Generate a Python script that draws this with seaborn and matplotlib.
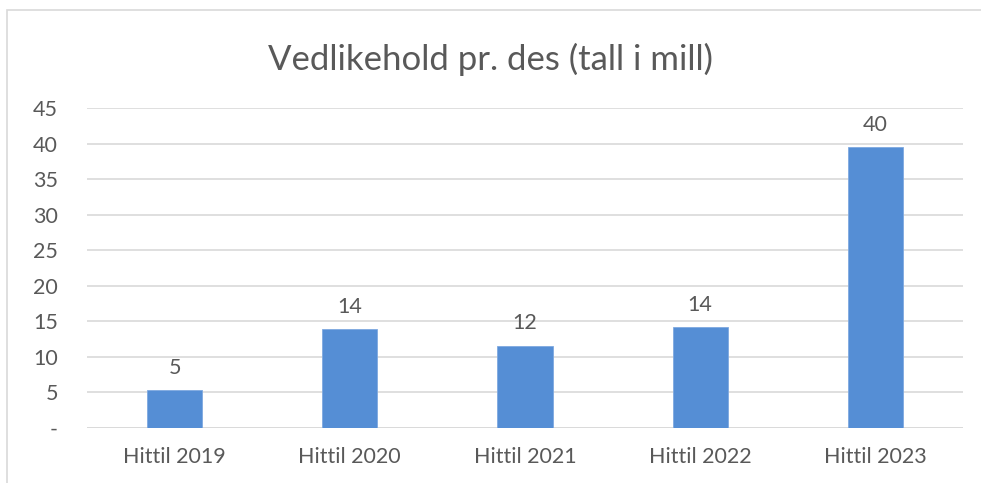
import matplotlib
matplotlib.use("Agg")
import matplotlib.pyplot as plt
import seaborn as sns
import pandas as pd
from matplotlib.patches import Rectangle

categories = ["Hittil 2019", "Hittil 2020", "Hittil 2021", "Hittil 2022", "Hittil 2023"]
values = [5.3, 13.9, 11.6, 14.2, 39.5]
labels = ["5", "14", "12", "14", "40"]
yticks = [0, 5, 10, 15, 20, 25, 30, 35, 40, 45]
yticklabels = ["-", "5", "10", "15", "20", "25", "30", "35", "40", "45"]
title = "Vedlikehold pr. des (tall i mill)"

sns.set_theme(style="white")
plt.rcParams['font.family'] = ['Lato', 'DejaVu Sans']

text_color = "#595959"
bar_color = "#558ed5"
grid_color = "#d9d9d9"

df = pd.DataFrame({"cat": categories, "val": values})

fig = plt.figure(figsize=(9.81, 4.83), dpi=100)
fig.patch.set_facecolor("white")
ax = fig.add_axes([87/981, 1 - 428/483, (963 - 87)/981, (428 - 108)/483])

sns.barplot(data=df, x="cat", y="val", color=bar_color, width=0.315,
            saturation=1, ax=ax, edgecolor="#7fa9e0", linewidth=0.6, zorder=3)

ax.set_ylim(0, 45)
ax.set_xlim(-0.5, len(categories) - 0.5)
ax.set_yticks(yticks)
ax.set_yticklabels(yticklabels)
ax.yaxis.grid(True, color=grid_color, linewidth=1.2, zorder=0)
ax.set_axisbelow(True)
for s in ax.spines.values():
    s.set_visible(False)
ax.axhline(0, color=grid_color, linewidth=1.2, zorder=1)
ax.set_xlabel("")
ax.set_ylabel("")
ax.tick_params(axis="both", length=0, colors=text_color, labelsize=15.5)
ax.tick_params(axis="y", pad=21)
ax.tick_params(axis="x", pad=14)
for lab in ax.get_yticklabels():
    lab.set_horizontalalignment("right")

for i, (v, lab) in enumerate(zip(values, labels)):
    ax.annotate(lab, xy=(i, v), xytext=(0, 9), textcoords="offset points",
                ha="center", va="bottom", fontsize=15.5, color=text_color)

fig.text(0.5, 1 - 59/483, title, ha="center", va="center", fontsize=25,
         color=text_color)

fig.add_artist(Rectangle((7/981, -0.01), 1.0, 1 - 10/483 + 0.01, transform=fig.transFigure,
                         fill=False, edgecolor="#d9d9d9", linewidth=1.2))

fig.savefig("out.png", dpi=100)
